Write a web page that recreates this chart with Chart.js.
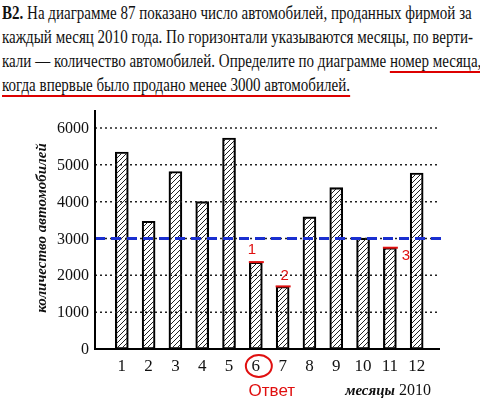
<!DOCTYPE html>
<html><head><meta charset="utf-8">
<script src="https://cdn.jsdelivr.net/npm/chart.js@4"></script>
<style>
body{margin:0;width:480px;height:402px;background:#fff;position:relative;overflow:hidden;font-family:"Liberation Serif",serif;}
#txt{position:absolute;left:2px;top:1px;font-size:17.8px;line-height:24px;color:#111;white-space:nowrap;}
#txt div{transform-origin:0 0;transform:scaleX(0.845);width:max-content}
.u{border-bottom:2px solid #d00;}
canvas{position:absolute;left:0;top:0}
</style></head><body>
<div id="txt">
<div><b>B2.</b> На диаграмме 87 показано число автомобилей, проданных фирмой за</div>
<div>каждый месяц 2010 года. По горизонтали указываются месяцы, по верти-</div>
<div>кали — количество автомобилей. Определите по диаграмме <span class="u">номер месяца,</span></div>
<div><span class="u">когда впервые было продано менее 3000 автомобилей.</span></div>
</div>
<canvas id="c" width="480" height="402"></canvas>
<script>
const months=[1,2,3,4,5,6,7,8,9,10,11,12];
const sales=[5350,3470,4820,4000,5730,2360,1700,3590,4380,3010,2750,4780];
const yTicks=[0,1000,2000,3000,4000,5000,6000];
const threshold=3000;

const pc=document.createElement('canvas');pc.width=5;pc.height=5;
const g=pc.getContext('2d');g.strokeStyle='#222';g.lineWidth=1;
g.beginPath();g.moveTo(0,5);g.lineTo(5,0);g.moveTo(-3,3);g.lineTo(3,-3);g.moveTo(2,8);g.lineTo(8,2);g.stroke();
const hatch=g.createPattern(pc,'repeat');

const extra={id:'extra',afterDraw(ch){
 const c=ch.ctx,x=ch.scales.x,y=ch.scales.y,a=ch.chartArea;
 c.save();
 c.strokeStyle='#222';c.lineWidth=1.5;c.setLineDash([2,3]);
 yTicks.slice(1).forEach(v=>{const yy=y.getPixelForValue(v);c.beginPath();c.moveTo(a.left,yy);c.lineTo(a.right,yy);c.stroke();});
 c.strokeStyle='#1a2fd0';c.lineWidth=3;c.setLineDash([10,6]);
 const yb=y.getPixelForValue(threshold);c.beginPath();c.moveTo(a.left,yb);c.lineTo(a.right+2,yb);c.stroke();
 c.setLineDash([]);
 c.strokeStyle='#000';c.lineWidth=2;
 c.beginPath();c.moveTo(a.left,a.top);c.lineTo(a.left,a.bottom);c.lineTo(a.right,a.bottom);c.stroke();
 c.fillStyle='#111';c.font='17px "Liberation Serif"';c.textAlign='center';
 months.forEach(m=>c.fillText(String(m),x.getPixelForValue(m),a.bottom+22));
 c.font='italic bold 15px "Liberation Serif"';c.textAlign='right';c.fillText('месяцы',a.right-45,a.bottom+46);
 c.font='16px "Liberation Serif"';c.textAlign='left';c.fillText('2010',a.right-41,a.bottom+46);
 c.textAlign='right';c.font='16px "Liberation Serif"';
 yTicks.forEach(v=>c.fillText(String(v),a.left-6,y.getPixelForValue(v)+5));
 c.save();c.translate(46,228);c.rotate(-Math.PI/2);c.textAlign='center';c.font='italic bold 15px "Liberation Serif"';c.fillText('количество автомобилей',0,0);c.restore();
 c.strokeStyle='#e01010';c.fillStyle='#e01010';c.lineWidth=2;
 [[6,'1',-4,-8],[7,'2',2,-6],[11,'3',16,12]].forEach(([m,t,dx,dy])=>{
  const xx=x.getPixelForValue(m),yy=y.getPixelForValue(sales[m-1]);
  c.beginPath();c.moveTo(xx-7,yy);c.lineTo(xx+8,yy);c.stroke();
  c.font='15px sans-serif';c.textAlign='center';c.fillText(t,xx+dx,yy+dy);
 });
 const x6=x.getPixelForValue(6);
 c.beginPath();c.ellipse(x6+3,a.bottom+17,13,11,0,0,Math.PI*2);c.stroke();
 c.font='17px sans-serif';c.textAlign='center';c.fillText('Ответ',x6+16,a.bottom+47);
 c.restore();
}};

new Chart(document.getElementById('c'),{
 type:'bar',
 data:{datasets:[{data:months.map((m,i)=>({x:m,y:sales[i]})),backgroundColor:hatch,borderColor:'#000',borderWidth:1.5,barThickness:13,borderSkipped:false}]},
 options:{responsive:false,animation:false,
  layout:{padding:{left:95,right:40,top:110,bottom:53}},
  plugins:{legend:{display:false},tooltip:{enabled:false}},
  scales:{
   x:{type:'linear',offset:false,min:0,max:12.87,display:false,grid:{display:false}},
   y:{min:0,max:6490,display:false,grid:{display:false}}
  }},
 plugins:[extra]
});
</script></body></html>
